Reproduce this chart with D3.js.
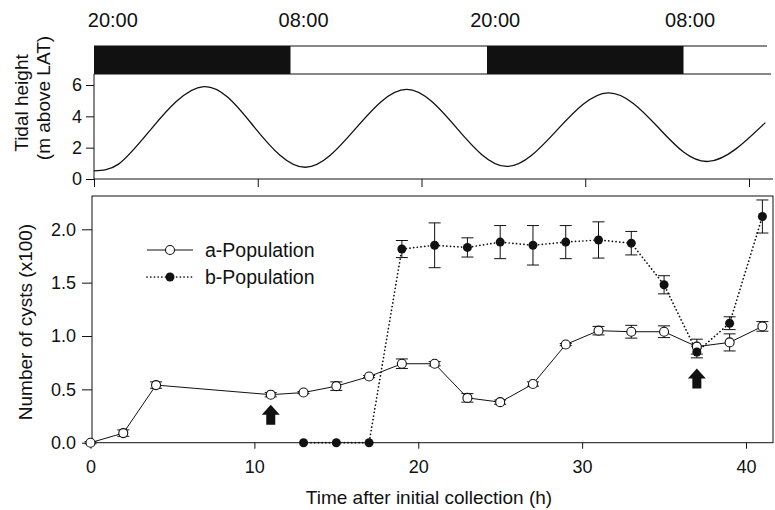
<!DOCTYPE html>
<html>
<head>
<meta charset="utf-8">
<script src="https://cdn.jsdelivr.net/npm/d3@7"></script>
<style>
  body { margin: 0; background: #fff; }
  svg { font-family: "Liberation Sans", Arial, sans-serif; }
</style>
</head>
<body>
<script>
// sampling times (h) and means / errors
var timesA = [0, 2, 4, 11, 13, 15, 17, 19, 21, 23, 25, 27, 29, 31, 33, 35, 37, 39, 41];
var popA   = [0.0, 0.09, 0.54, 0.45, 0.47, 0.53, 0.62, 0.74, 0.74, 0.42, 0.38, 0.55, 0.92, 1.05, 1.04, 1.04, 0.90, 0.94, 1.09];
var errA   = [0.01, 0.03, 0.03, 0.02, 0.01, 0.04, 0.01, 0.045, 0.02, 0.04, 0.02, 0.02, 0.01, 0.04, 0.06, 0.055, 0.07, 0.08, 0.045];

var timesB = [13, 15, 17, 19, 21, 23, 25, 27, 29, 31, 33, 35, 37, 39, 41];
var popB   = [0, 0, 0, 1.815, 1.85, 1.83, 1.88, 1.85, 1.88, 1.90, 1.87, 1.48, 0.85, 1.12, 2.12];
var errB   = [0, 0, 0, 0.08, 0.21, 0.09, 0.155, 0.185, 0.155, 0.17, 0.11, 0.085, 0.055, 0.06, 0.155];

// tide curve
var tideTimes  = [0, 1.5, 3.5, 6.7, 9.8, 12.9, 16.0, 19.1, 22.15, 25.2, 28.3, 31.4, 34.45, 37.5, 41.0];
var tideHeight = [0.52, 0.95, 3.2, 5.9, 3.3, 0.75, 3.25, 5.72, 3.25, 0.8, 3.15, 5.5, 3.3, 1.12, 3.6];

// dark periods and clock labels
var nightStart = [0, 24];
var nightEnd   = [12, 36];
var clockTimes  = [1.15, 12.8, 24.5, 36.4];
var clockLabels = ["20:00", "08:00", "20:00", "08:00"];

// arrows (time, tip value)
var arrowTimes = [11, 37];
var arrowTips  = [0.355, 0.695];

var W = 775, H = 510;
var svg = d3.select("body").append("svg").attr("width", W).attr("height", H);

var ink = "#111";

// ---------- top panel ----------
var xTop = d3.scaleLinear().domain([0, 40]).range([94, 749]);
var yTide = d3.scaleLinear().domain([0, 6]).range([179, 85]);
var barTop = 46, barBot = 74, topEnd = 41.1;

svg.selectAll("text.clock")
   .data(clockLabels)
   .enter()
   .append("text")
   .attr("class", "clock")
   .attr("x", function(d, i) { return xTop(clockTimes[i]); })
   .attr("y", 27)
   .attr("text-anchor", "middle")
   .attr("font-size", 20)
   .attr("fill", ink)
   .text(function(d) { return d; });

svg.selectAll("rect.night")
   .data(nightStart)
   .enter()
   .append("rect")
   .attr("class", "night")
   .attr("x", function(d) { return xTop(d); })
   .attr("y", barTop)
   .attr("width", function(d, i) { return xTop(nightEnd[i]) - xTop(d); })
   .attr("height", barBot - barTop)
   .attr("fill", ink);

svg.append("line")
   .attr("x1", xTop(0)).attr("x2", xTop(topEnd))
   .attr("y1", barTop).attr("y2", barTop)
   .attr("stroke", ink).attr("stroke-width", 1);
svg.append("line")
   .attr("x1", xTop(0)).attr("x2", xTop(topEnd) + 4)
   .attr("y1", barBot).attr("y2", barBot)
   .attr("stroke", ink).attr("stroke-width", 1);

// tide axes
var gTideY = svg.append("g")
   .attr("transform", "translate(" + xTop(0) + ",0)")
   .call(d3.axisLeft(yTide).tickValues([0, 2, 4, 6]).tickFormat(d3.format("d")).tickSize(8).tickPadding(4));
var gTideX = svg.append("g")
   .attr("transform", "translate(0," + yTide(0) + ")")
   .call(d3.axisBottom(xTop).tickValues([0, 10, 20, 30, 40]).tickSize(8).tickFormat(""));
[gTideY, gTideX].forEach(function(g) {
  g.select(".domain").remove();
  g.selectAll("line").attr("stroke", ink);
  g.selectAll("text").attr("font-size", 18).attr("fill", ink).attr("font-family", null);
});
svg.append("line")
   .attr("x1", xTop(0)).attr("x2", xTop(0))
   .attr("y1", barBot).attr("y2", yTide(0))
   .attr("stroke", ink);
svg.append("line")
   .attr("x1", xTop(0)).attr("x2", xTop(topEnd) + 6)
   .attr("y1", yTide(0)).attr("y2", yTide(0))
   .attr("stroke", ink);

var tideLine = d3.line()
   .x(function(d, i) { return xTop(tideTimes[i]); })
   .y(function(d) { return yTide(d); })
   .curve(d3.curveNatural);
svg.append("path")
   .attr("d", tideLine(tideHeight))
   .attr("fill", "none")
   .attr("stroke", ink)
   .attr("stroke-width", 1.3);

svg.append("text")
   .attr("transform", "translate(21,103) rotate(-90)")
   .attr("text-anchor", "middle").attr("dy", "0.35em")
   .attr("font-size", 19).attr("fill", ink)
   .text("Tidal height");
svg.append("text")
   .attr("transform", "translate(43,98) rotate(-90)")
   .attr("text-anchor", "middle").attr("dy", "0.35em")
   .attr("font-size", 19).attr("fill", ink)
   .text("(m above LAT)");

// ---------- bottom panel ----------
var x = d3.scaleLinear().domain([0, 40]).range([90.5, 746]);
var y = d3.scaleLinear().domain([0, 2]).range([442.7, 229.3]);
var frameL = 92, frameR = 773, frameT = 196;

svg.append("rect")
   .attr("x", frameL).attr("y", frameT)
   .attr("width", frameR - frameL).attr("height", y(0) - frameT)
   .attr("fill", "none").attr("stroke", ink).attr("stroke-width", 1);

var gY = svg.append("g")
   .attr("transform", "translate(" + frameL + ",0)")
   .call(d3.axisLeft(y).tickValues([0, 0.5, 1, 1.5, 2]).tickFormat(d3.format(".1f")).tickSize(10).tickPadding(6));
var gX = svg.append("g")
   .attr("transform", "translate(0," + y(0) + ")")
   .call(d3.axisBottom(x).tickValues([0, 10, 20, 30, 40]).tickSize(6).tickPadding(12));
[gY, gX].forEach(function(g) {
  g.select(".domain").remove();
  g.selectAll("line").attr("stroke", ink);
  g.selectAll("text").attr("font-size", 18).attr("fill", ink).attr("font-family", null);
});

svg.append("text")
   .attr("x", 429).attr("y", 504)
   .attr("text-anchor", "middle")
   .attr("font-size", 19).attr("fill", ink)
   .text("Time after initial collection (h)");
svg.append("text")
   .attr("transform", "translate(25,322) rotate(-90)")
   .attr("text-anchor", "middle").attr("dy", "0.35em")
   .attr("font-size", 19).attr("fill", ink)
   .text("Number of cysts (x100)");

var lineA = d3.line()
   .x(function(d, i) { return x(timesA[i]); })
   .y(function(d) { return y(d); });
var lineB = d3.line()
   .x(function(d, i) { return x(timesB[i]); })
   .y(function(d) { return y(d); });

svg.append("path")
   .attr("d", lineA(popA))
   .attr("fill", "none").attr("stroke", ink).attr("stroke-width", 1);
svg.append("path")
   .attr("d", lineB(popB))
   .attr("fill", "none").attr("stroke", ink).attr("stroke-width", 1.7)
   .attr("stroke-dasharray", "0.1,3.6").attr("stroke-linecap", "round");

function errorBars(times, vals, errs) {
  var g = svg.append("g").attr("stroke", ink).attr("stroke-width", 1);
  vals.forEach(function(v, i) {
    if (errs[i] <= 0) return;
    var cx = x(times[i]);
    g.append("line").attr("x1", cx).attr("x2", cx)
     .attr("y1", y(v - errs[i])).attr("y2", y(v + errs[i]));
    g.append("line").attr("x1", cx - 6).attr("x2", cx + 6)
     .attr("y1", y(v - errs[i])).attr("y2", y(v - errs[i]));
    g.append("line").attr("x1", cx - 6).attr("x2", cx + 6)
     .attr("y1", y(v + errs[i])).attr("y2", y(v + errs[i]));
  });
}
errorBars(timesA, popA, errA);
errorBars(timesB, popB, errB);

svg.selectAll("circle.a")
   .data(popA)
   .enter()
   .append("circle")
   .attr("class", "a")
   .attr("cx", function(d, i) { return x(timesA[i]); })
   .attr("cy", function(d) { return y(d); })
   .attr("r", 4.5)
   .attr("fill", "#fff").attr("stroke", ink).attr("stroke-width", 1.1);

svg.selectAll("circle.b")
   .data(popB)
   .enter()
   .append("circle")
   .attr("class", "b")
   .attr("cx", function(d, i) { return x(timesB[i]); })
   .attr("cy", function(d) { return y(d); })
   .attr("r", 4.5)
   .attr("fill", ink);

// arrows
svg.selectAll("path.arrow")
   .data(arrowTips)
   .enter()
   .append("path")
   .attr("class", "arrow")
   .attr("d", function(d, i) {
     var cx = x(arrowTimes[i]), ty = y(d);
     return "M" + cx + "," + ty +
            "L" + (cx + 9) + "," + (ty + 10) +
            "L" + (cx + 4.5) + "," + (ty + 10) +
            "L" + (cx + 4.5) + "," + (ty + 20) +
            "L" + (cx - 4.5) + "," + (ty + 20) +
            "L" + (cx - 4.5) + "," + (ty + 10) +
            "L" + (cx - 9) + "," + (ty + 10) + "Z";
   })
   .attr("fill", ink);

// legend
var legend = svg.append("g");
legend.append("line").attr("x1", 147).attr("x2", 193).attr("y1", 250).attr("y2", 250)
   .attr("stroke", ink).attr("stroke-width", 1);
legend.append("circle").attr("cx", 170).attr("cy", 250).attr("r", 4.5)
   .attr("fill", "#fff").attr("stroke", ink).attr("stroke-width", 1.1);
legend.append("text").attr("x", 205).attr("y", 250).attr("dy", "0.35em")
   .attr("font-size", 19.5).attr("fill", ink).text("a-Population");
legend.append("line").attr("x1", 147).attr("x2", 193).attr("y1", 277).attr("y2", 277)
   .attr("stroke", ink).attr("stroke-width", 1.7)
   .attr("stroke-dasharray", "0.1,3.6").attr("stroke-linecap", "round");
legend.append("circle").attr("cx", 170).attr("cy", 277).attr("r", 4.5).attr("fill", ink);
legend.append("text").attr("x", 205).attr("y", 277).attr("dy", "0.35em")
   .attr("font-size", 19.5).attr("fill", ink).text("b-Population");
</script>
</body>
</html>
